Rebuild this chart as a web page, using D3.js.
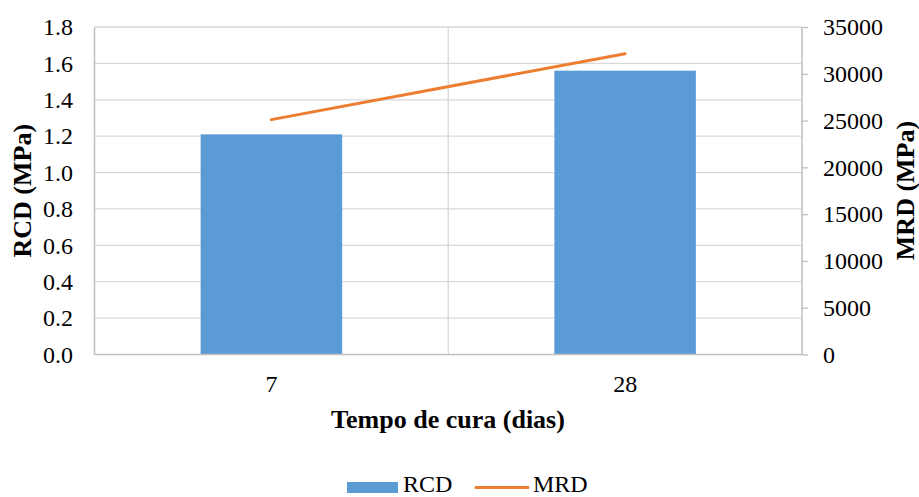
<!DOCTYPE html>
<html>
<head>
<meta charset="utf-8">
<script src="https://cdn.jsdelivr.net/npm/d3@7"></script>
<style>
  html, body { margin: 0; padding: 0; background: #fff; }
  svg { display: block; }
  svg text { font-family: "Liberation Serif", "DejaVu Serif", serif; fill: #000; }
</style>
</head>
<body>
<svg id="chart" width="919" height="497"></svg>
<script>
// Curing time categories and measured results
const categories = ["7", "28"];
const rcdValues = [1.21, 1.56];       // RCD (MPa), bars, left axis
const mrdValues = [25100, 32150];     // MRD (MPa), line, right axis
const leftTicks = [0, 0.2, 0.4, 0.6, 0.8, 1.0, 1.2, 1.4, 1.6, 1.8];
const rightTicks = [0, 5000, 10000, 15000, 20000, 25000, 30000, 35000];

const FONT = '"Liberation Serif", "DejaVu Serif", serif';
const TICK_SIZE = 24;
const TITLE_SIZE = 26;
const svg = d3.select("#chart");
const plot = { left: 94.5, right: 802, top: 27, bottom: 354.5 };

const x = d3.scaleBand().domain(categories).range([plot.left, plot.right]).paddingInner(0).paddingOuter(0);
const yL = d3.scaleLinear().domain([0, 1.8]).range([plot.bottom, plot.top]);
const yR = d3.scaleLinear().domain([0, 35000]).range([plot.bottom, plot.top]);

// Horizontal gridlines
svg.append("g").selectAll("line").data(leftTicks.slice(1)).join("line")
  .attr("x1", plot.left).attr("x2", plot.right)
  .attr("y1", d => yL(d)).attr("y2", d => yL(d))
  .attr("stroke", "#d9d9d9").attr("stroke-width", 1.3);

// Vertical gridline between categories
svg.append("line")
  .attr("x1", x("28")).attr("x2", x("28"))
  .attr("y1", plot.top).attr("y2", plot.bottom)
  .attr("stroke", "#d9d9d9").attr("stroke-width", 1.3);

// Bars
const barW = x.bandwidth() * 0.4;
svg.append("g").selectAll("rect").data(categories).join("rect")
  .attr("x", d => x(d) + x.bandwidth() / 2 - barW / 2)
  .attr("width", barW)
  .attr("y", (d, i) => yL(rcdValues[i]))
  .attr("height", (d, i) => yL(0) - yL(rcdValues[i]))
  .attr("fill", "#5b9bd5");

// Axis lines
svg.append("line").attr("x1", plot.left).attr("x2", plot.left)
  .attr("y1", plot.top).attr("y2", plot.bottom).attr("stroke", "#bfbfbf").attr("stroke-width", 1.5);
svg.append("line").attr("x1", plot.left).attr("x2", plot.right)
  .attr("y1", plot.bottom).attr("y2", plot.bottom).attr("stroke", "#bfbfbf").attr("stroke-width", 1.5);

function styleTicks(g) {
  g.attr("font-family", FONT).attr("font-size", TICK_SIZE);
  g.selectAll(".tick text").style("font-family", FONT).attr("font-size", TICK_SIZE).attr("fill", "#000");
}

// Right axis with outward ticks
const rightAxis = d3.axisRight(yR).tickValues(rightTicks).tickSize(6).tickPadding(15).tickFormat(d3.format("d"));
const gR = svg.append("g").attr("transform", `translate(${plot.right},0)`).call(rightAxis);
gR.select(".domain").attr("stroke", "#bfbfbf").attr("stroke-width", 1.5)
  .attr("d", `M0,${plot.top}V${plot.bottom}`);
gR.selectAll(".tick line").attr("stroke", "#bfbfbf").attr("stroke-width", 1.3);
styleTicks(gR);

// Left axis labels
const leftAxis = d3.axisLeft(yL).tickValues(leftTicks).tickSize(0).tickPadding(21.5).tickFormat(d3.format(".1f"));
const gL = svg.append("g").attr("transform", `translate(${plot.left},0)`).call(leftAxis);
gL.select(".domain").remove();
styleTicks(gL);

// Category labels
const xAxis = d3.axisBottom(x).tickSize(0).tickPadding(20.5);
const gX = svg.append("g").attr("transform", `translate(0,${plot.bottom})`).call(xAxis);
gX.select(".domain").remove();
styleTicks(gX);

// MRD line
const line = d3.line()
  .x((d, i) => x(categories[i]) + x.bandwidth() / 2)
  .y(d => yR(d));
svg.append("path").datum(mrdValues)
  .attr("d", line).attr("fill", "none")
  .attr("stroke", "#ed7d31").attr("stroke-width", 3).attr("stroke-linecap", "round");

// Axis titles
svg.append("text").attr("x", 448).attr("y", 428).attr("text-anchor", "middle").style("font-family", FONT)
  .attr("font-size", TITLE_SIZE).attr("font-weight", "bold").text("Tempo de cura (dias)");
svg.append("text").attr("transform", `translate(31,${(plot.top + plot.bottom) / 2}) rotate(-90)`).style("font-family", FONT)
  .attr("text-anchor", "middle").attr("font-size", TITLE_SIZE).attr("font-weight", "bold").text("RCD (MPa)");
svg.append("text").attr("transform", `translate(913.5,190.5) rotate(-90)`).style("font-family", FONT)
  .attr("text-anchor", "middle").attr("font-size", TITLE_SIZE).attr("font-weight", "bold").text("MRD (MPa)");

// Legend
const legend = svg.append("g");
legend.append("rect").attr("x", 347).attr("y", 482).attr("width", 51).attr("height", 11).attr("fill", "#5b9bd5");
legend.append("text").attr("x", 403).attr("y", 492).style("font-family", FONT).attr("font-size", TICK_SIZE).text("RCD");
legend.append("line").attr("x1", 476).attr("x2", 528).attr("y1", 487.5).attr("y2", 487.5)
  .attr("stroke", "#ed7d31").attr("stroke-width", 3).attr("stroke-linecap", "round");
legend.append("text").attr("x", 533).attr("y", 492).style("font-family", FONT).attr("font-size", TICK_SIZE).text("MRD");
</script>
</body>
</html>
